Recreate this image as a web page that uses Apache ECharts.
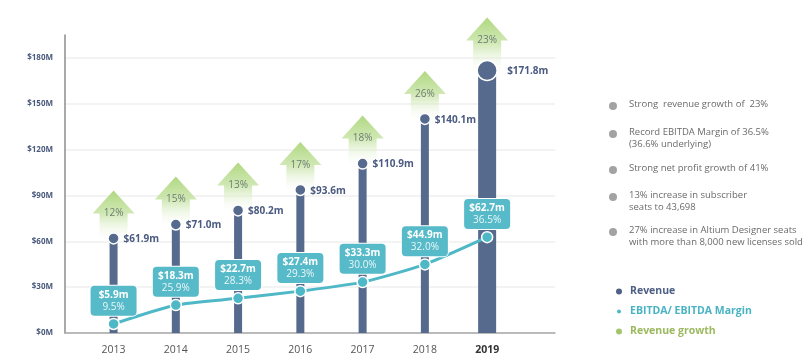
<!DOCTYPE html>
<html>
<head>
<meta charset="utf-8">
<script src="https://cdn.jsdelivr.net/npm/echarts@6/dist/echarts.min.js"></script>
<style>
html,body{margin:0;padding:0;background:#fff;}
#chart{width:803px;height:364px;}
</style>
</head>
<body>
<div id="chart"></div>
<script>
const years = ['2013', '2014', '2015', '2016', '2017', '2018', '2019'];
const revenue = [61.9, 71.0, 80.2, 93.6, 110.9, 140.1, 171.8];
const ebitda = [5.9, 18.3, 22.7, 27.4, 33.3, 44.9, 62.7];
const ebitdaMargin = [9.5, 25.9, 28.3, 29.3, 30.0, 32.0, 36.5];
const revenueGrowth = [12, 15, 13, 17, 18, 26, 23];
const yTicks = [0, 30, 60, 90, 120, 150, 180];
const notes = [
  'Strong  revenue growth of  23%',
  'Record EBITDA Margin of 36.5%\n(36.6% underlying)',
  'Strong net profit growth of 41%',
  '13% increase in subscriber\nseats to 43,698',
  '27% increase in Altium Designer seats\nwith more than 8,000 new licenses sold'
];

const FONT = '"Open Sans", "Noto Sans", sans-serif';
const NAVY = '#566a8e';
const TEAL = '#4fb8c6';
const GREEN = '#a4c56f';

const chart = echarts.init(document.getElementById('chart'), null, {renderer: 'canvas'});

const noteY = [106, 134, 170, 197, 232];
const graphics = [];
notes.forEach((t, i) => {
  graphics.push({
    type: 'circle', left: 609, top: noteY[i] - 4,
    shape: {r: 4}, style: {fill: '#a3a3a3'}
  });
  graphics.push({
    type: 'text', left: 629, top: noteY[i] - 7,
    style: {text: t, fill: '#6a6a6a', fontSize: 9.5, fontFamily: FONT, lineHeight: 11.5}
  });
});

const option = {
  animation: false,
  textStyle: {fontFamily: FONT},
  grid: {left: 65, right: 248, top: 35, bottom: 31, containLabel: false},
  xAxis: {
    type: 'value', min: -0.78, max: 7.09,
    splitLine: {show: false},
    axisTick: {show: false},
    axisLine: {show: true, onZero: false, lineStyle: {color: '#a8a8a8', width: 1.5}},
    axisLabel: {
      customValues: years.map((y, i) => i),
      margin: 12,
      formatter: v => (v === years.length - 1 ? '{b|' + years[v] + '}' : '{a|' + (years[v] || '') + '}'),
      rich: {
        a: {fontSize: 10.5, color: '#555', fontFamily: FONT},
        b: {fontSize: 10.5, color: '#333', fontWeight: 'bold', fontFamily: FONT}
      }
    }
  },
  yAxis: {
    type: 'value', min: 0, max: 195, interval: 30,
    axisLine: {show: true, onZero: false, lineStyle: {color: '#8c8c8c', width: 1.5}},
    axisTick: {show: false},
    splitLine: {show: true, showMaxLine: false, lineStyle: {color: '#efefef', width: 1.5}},
    axisLabel: {
      margin: 12, showMaxLabel: false,
      fontSize: 8, fontWeight: 'bold', color: '#4a5a7c', fontFamily: FONT,
      formatter: v => (yTicks.indexOf(v) >= 0 ? '$' + v + 'M' : '')
    }
  },
  legend: {
    orient: 'vertical', left: 610, top: 281, itemGap: 9,
    itemWidth: 6, itemHeight: 6, icon: 'circle',
    selectedMode: false,
    data: [
      {name: 'Revenue', itemStyle: {color: '#4f6186'}, textStyle: {color: '#4d5f85'}},
      {name: 'EBITDA/ EBITDA Margin', itemStyle: {color: TEAL}, textStyle: {color: '#48b3c2'}},
      {name: 'Revenue growth', itemStyle: {color: GREEN}, textStyle: {color: '#9cb95f'}}
    ],
    textStyle: {fontSize: 10.5, fontWeight: 'bold', fontFamily: FONT, padding: [0, 0, 0, 3]}
  },
  graphic: graphics,
  series: [
    {
      name: 'Revenue growth', type: 'custom', z: 1,
      itemStyle: {color: GREEN},
      data: years.map((y, i) => [i, revenue[i], revenueGrowth[i]]),
      encode: {x: 0, y: 1},
      renderItem: (params, api) => {
        const p = api.coord([api.value(0), api.value(1)]);
        const big = params.dataIndex === years.length - 1;
        const r = big ? 10 : 5;
        const tip = p[1] - r - 43;
        const sh = tip + 23;
        const bottom = p[1] + 4;
        const hw = 21, sw = 14;
        const cx = p[0];
        return {
          type: 'group',
          children: [
            {
              type: 'polygon',
              shape: {points: [[cx, tip], [cx + hw, sh], [cx + sw, sh], [cx + sw, bottom], [cx - sw, bottom], [cx - sw, sh], [cx - hw, sh]]},
              style: {
                fill: new echarts.graphic.LinearGradient(0, 0, 0, 1, [
                  {offset: 0, color: 'rgba(176,216,128,1)'},
                  {offset: 0.45, color: 'rgba(200,228,168,0.85)'},
                  {offset: 1, color: 'rgba(255,255,255,0)'}
                ])
              }
            },
            {
              type: 'text', x: cx, y: sh,
              style: {text: api.value(2) + '%', fill: '#6e7d74', fontSize: 10, fontFamily: FONT, align: 'center', verticalAlign: 'middle'}
            }
          ]
        };
      }
    },
    {
      name: 'Revenue', type: 'custom', z: 2,
      itemStyle: {color: NAVY},
      data: years.map((y, i) => [i, revenue[i]]),
      encode: {x: 0, y: 1},
      renderItem: (params, api) => {
        const top = api.coord([api.value(0), api.value(1)]);
        const base = api.coord([api.value(0), 0]);
        const big = params.dataIndex === years.length - 1;
        const w = big ? 18 : 8;
        const r = big ? 10 : 5.5;
        return {
          type: 'group',
          children: [
            {type: 'rect', shape: {x: top[0] - w / 2, y: top[1], width: w, height: base[1] - top[1]}, style: {fill: NAVY}},
            {type: 'circle', shape: {cx: top[0], cy: top[1], r: r}, style: {fill: NAVY, stroke: '#fff', lineWidth: 1.5}},
            {
              type: 'text', x: top[0] + (big ? 20 : 10), y: top[1] + 1,
              style: {text: '$' + api.value(1).toFixed(1) + 'm', fill: '#4a5a80', fontSize: 10, fontWeight: 'bold', fontFamily: FONT, align: 'left', verticalAlign: 'middle'}
            }
          ]
        };
      }
    },
    {
      name: 'EBITDA/ EBITDA Margin', type: 'line', z: 3,
      data: years.map((y, i) => [i, ebitda[i], ebitdaMargin[i]]),
      smooth: 0.2,
      symbol: 'circle', symbolSize: 11,
      lineStyle: {color: TEAL, width: 3},
      itemStyle: {color: TEAL, borderColor: '#fff', borderWidth: 1.5},
      label: {
        show: true, position: 'top', distance: 2,
        backgroundColor: '#56bac8', borderColor: '#fff', borderWidth: 1, borderRadius: 4,
        padding: [3, 5, 3, 5], width: 36, align: 'center',
        formatter: p => '{a|$' + p.value[1].toFixed(1) + 'm}\n{b|' + p.value[2].toFixed(1) + '%}',
        rich: {
          a: {color: '#fff', fontSize: 10, fontWeight: 'bold', fontFamily: FONT, lineHeight: 12, align: 'center', width: 36},
          b: {color: 'rgba(255,255,255,0.88)', fontSize: 10, fontFamily: FONT, lineHeight: 12, align: 'center', width: 36}
        }
      }
    }
  ]
};
chart.setOption(option);
</script>
</body>
</html>
